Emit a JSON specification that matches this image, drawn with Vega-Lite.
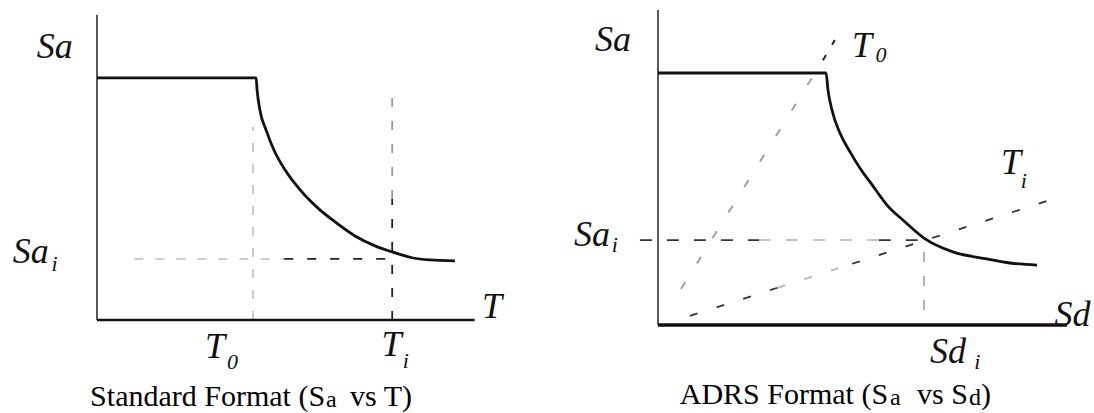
{
  "$schema": "https://vega.github.io/schema/vega-lite/v6.json",
  "background": "white",
  "padding": {"left": 12, "top": 9, "right": 0, "bottom": 0},
  "bounds": "flush",
  "spacing": 180,
  "config": {"view": {"stroke": null}},
  "datasets": {
    "leftAxisY": [{"T": 0, "Sa": 0, "T2": 0, "Sa2": 1.26}],
    "leftAxisX": [{"T": 0, "Sa": 0, "T2": 1.21, "Sa2": 0}],
    "leftCurve": [
      {"T": 0, "Sa": 1.0}, {"T": 0.51, "Sa": 1.0}, {"T": 0.513, "Sa": 0.95}, {"T": 0.522, "Sa": 0.867},
      {"T": 0.542, "Sa": 0.784}, {"T": 0.567, "Sa": 0.702}, {"T": 0.603, "Sa": 0.619}, {"T": 0.651, "Sa": 0.537},
      {"T": 0.708, "Sa": 0.462}, {"T": 0.763, "Sa": 0.405}, {"T": 0.827, "Sa": 0.347}, {"T": 0.891, "Sa": 0.306},
      {"T": 0.946, "Sa": 0.281}, {"T": 1.013, "Sa": 0.256}, {"T": 1.067, "Sa": 0.248}, {"T": 1.147, "Sa": 0.244}
    ],
    "leftDashFaint": [
      {"T": 0.5, "Sa": 0, "T2": 0.5, "Sa2": 0.797},
      {"T": 0.12, "Sa": 0.252, "T2": 0.6, "Sa2": 0.252}
    ],
    "leftDashMid": [
      {"T": 0.946, "Sa": 0.5, "T2": 0.946, "Sa2": 0.95}
    ],
    "leftDashDark": [
      {"T": 0.6, "Sa": 0.252, "T2": 0.946, "Sa2": 0.252},
      {"T": 0.946, "Sa": 0, "T2": 0.946, "Sa2": 0.5}
    ],
    "leftLabels": [
      {"T": -0.135, "Sa": 1.127, "label": "Sa"},
      {"T": -0.212, "Sa": 0.281, "label": "Sa"},
      {"T": 1.266, "Sa": 0.054, "label": "T"},
      {"T": 0.378, "Sa": -0.111, "label": "T"},
      {"T": 0.944, "Sa": -0.103, "label": "T"}
    ],
    "leftSubs": [
      {"T": -0.136, "Sa": 0.232, "label": "i"},
      {"T": 0.434, "Sa": -0.175, "label": "0"},
      {"T": 0.99, "Sa": -0.17, "label": "i"}
    ],
    "leftCapR": [{"T": 0.731, "Sa": -0.355, "label": "Standard Format (S"}],
    "leftCapL": [{"T": 0.811, "Sa": -0.355, "label": "vs T)"}],
    "leftCapSub": [{"T": 0.734, "Sa": -0.361, "label": "a"}],

    "rightAxisY": [{"Sd": 0, "Sa": 0, "Sd2": 0, "Sa2": 1.25}],
    "rightAxisX": [{"Sd": 0, "Sa": 0, "Sd2": 1.538, "Sa2": 0}],
    "rightCurve": [
      {"Sd": 0, "Sa": 1.0}, {"Sd": 0.632, "Sa": 1.0}, {"Sd": 0.639, "Sa": 0.933}, {"Sd": 0.654, "Sa": 0.853},
      {"Sd": 0.684, "Sa": 0.762}, {"Sd": 0.722, "Sa": 0.687}, {"Sd": 0.759, "Sa": 0.623}, {"Sd": 0.805, "Sa": 0.556},
      {"Sd": 0.861, "Sa": 0.476}, {"Sd": 0.929, "Sa": 0.409}, {"Sd": 1.0, "Sa": 0.345}, {"Sd": 1.109, "Sa": 0.29},
      {"Sd": 1.237, "Sa": 0.262}, {"Sd": 1.323, "Sa": 0.246}, {"Sd": 1.425, "Sa": 0.238}
    ],
    "rightSa1Dark": [
      {"Sd": -0.068, "Sa": 0.337, "Sd2": 0.38, "Sa2": 0.337},
      {"Sd": 0.83, "Sa": 0.337, "Sd2": 1.0, "Sa2": 0.337}
    ],
    "rightSa1Faint": [{"Sd": 0.38, "Sa": 0.337, "Sd2": 0.83, "Sa2": 0.337}],
    "rightT1Dark": [
      {"Sd": 0.12, "Sa": 0.036, "Sd2": 0.45, "Sa2": 0.148},
      {"Sd": 0.73, "Sa": 0.243, "Sd2": 1.474, "Sa2": 0.496}
    ],
    "rightT1Faint": [{"Sd": 0.45, "Sa": 0.148, "Sd2": 0.73, "Sa2": 0.243}],
    "rightT0": [{"Sd": 0.0865, "Sa": 0.143, "Sd2": 0.62, "Sa2": 1.051}],
    "rightT0Dark": [{"Sd": 0.62, "Sa": 1.051, "Sd2": 0.665, "Sa2": 1.131}],
    "rightSd1": [{"Sd": 1.0, "Sa": 0.06, "Sd2": 1.0, "Sa2": 0.337}],
    "rightLabels": [
      {"Sd": -0.169, "Sa": 1.131, "label": "Sa"},
      {"Sd": -0.248, "Sa": 0.357, "label": "Sa"},
      {"Sd": 0.767, "Sa": 1.107, "label": "T"},
      {"Sd": 1.327, "Sa": 0.643, "label": "T"},
      {"Sd": 1.558, "Sa": 0.04, "label": "Sd"},
      {"Sd": 1.09, "Sa": -0.107, "label": "Sd"}
    ],
    "rightSubs": [
      {"Sd": -0.162, "Sa": 0.318, "label": "i"},
      {"Sd": 0.838, "Sa": 1.071, "label": "0"},
      {"Sd": 1.375, "Sa": 0.571, "label": "i"},
      {"Sd": 1.2, "Sa": -0.147, "label": "i"}
    ],
    "rightCapR": [{"Sd": 0.865, "Sa": -0.313, "label": "ADRS Format (S"}],
    "rightCapL": [{"Sd": 0.974, "Sa": -0.313, "label": "vs S"}, {"Sd": 1.214, "Sa": -0.313, "label": ")"}],
    "rightCapSub": [{"Sd": 0.872, "Sa": -0.319, "label": "a"}, {"Sd": 1.169, "Sa": -0.319, "label": "d"}]
  },
  "hconcat": [
    {
      "width": 381,
      "height": 310,
      "encoding": {
        "x": {"field": "T", "type": "quantitative", "scale": {"domain": [0, 1.221], "nice": false, "zero": false}, "axis": null},
        "y": {"field": "Sa", "type": "quantitative", "scale": {"domain": [0, 1.28], "nice": false, "zero": false}, "axis": null}
      },
      "layer": [
        {"data": {"name": "leftDashFaint"}, "mark": {"type": "rule", "color": "#cccccc", "strokeWidth": 2, "strokeDash": [9, 12]},
         "encoding": {"x2": {"field": "T2"}, "y2": {"field": "Sa2"}}},
        {"data": {"name": "leftDashMid"}, "mark": {"type": "rule", "color": "#999999", "strokeWidth": 1.8, "strokeDash": [9, 14]},
         "encoding": {"x2": {"field": "T2"}, "y2": {"field": "Sa2"}}},
        {"data": {"name": "leftDashDark"}, "mark": {"type": "rule", "color": "#222", "strokeWidth": 1.8, "strokeDash": [9, 14]},
         "encoding": {"x2": {"field": "T2"}, "y2": {"field": "Sa2"}}},
        {"data": {"name": "leftAxisY"}, "mark": {"type": "rule", "color": "#222", "strokeWidth": 1.5},
         "encoding": {"x2": {"field": "T2"}, "y2": {"field": "Sa2"}}},
        {"data": {"name": "leftAxisX"}, "mark": {"type": "rule", "color": "#111", "strokeWidth": 2.5},
         "encoding": {"x2": {"field": "T2"}, "y2": {"field": "Sa2"}}},
        {"data": {"name": "leftCurve"}, "mark": {"type": "line", "color": "#111", "strokeWidth": 2.8, "interpolate": "monotone"}},
        {"data": {"name": "leftLabels"}, "mark": {"type": "text", "font": "Liberation Serif", "fontStyle": "italic", "fontSize": 36, "align": "center", "baseline": "middle", "color": "#111"},
         "encoding": {"text": {"field": "label"}}},
        {"data": {"name": "leftSubs"}, "mark": {"type": "text", "font": "Liberation Serif", "fontStyle": "italic", "fontSize": 22, "align": "center", "baseline": "middle", "color": "#111"},
         "encoding": {"text": {"field": "label"}}},
        {"data": {"name": "leftCapR"}, "mark": {"type": "text", "font": "Liberation Serif", "fontSize": 30, "align": "right", "baseline": "alphabetic", "color": "#000"},
         "encoding": {"text": {"field": "label"}}},
        {"data": {"name": "leftCapL"}, "mark": {"type": "text", "font": "Liberation Serif", "fontSize": 30, "align": "left", "baseline": "alphabetic", "color": "#000"},
         "encoding": {"text": {"field": "label"}}},
        {"data": {"name": "leftCapSub"}, "mark": {"type": "text", "font": "Liberation Serif", "fontSize": 24, "align": "left", "baseline": "alphabetic", "color": "#000"},
         "encoding": {"text": {"field": "label"}}}
      ]
    },
    {
      "width": 410,
      "height": 315,
      "encoding": {
        "x": {"field": "Sd", "type": "quantitative", "scale": {"domain": [0, 1.5414], "nice": false, "zero": false}, "axis": null},
        "y": {"field": "Sa", "type": "quantitative", "scale": {"domain": [0, 1.25], "nice": false, "zero": false}, "axis": null}
      },
      "layer": [
        {"data": {"name": "rightT0"}, "mark": {"type": "rule", "color": "#a0a0a0", "strokeWidth": 2, "strokeDash": [8, 22]},
         "encoding": {"x2": {"field": "Sd2"}, "y2": {"field": "Sa2"}}},
        {"data": {"name": "rightT0Dark"}, "mark": {"type": "rule", "color": "#222", "strokeWidth": 2, "strokeDash": [6, 12]},
         "encoding": {"x2": {"field": "Sd2"}, "y2": {"field": "Sa2"}}},
        {"data": {"name": "rightT1Dark"}, "mark": {"type": "rule", "color": "#333", "strokeWidth": 1.8, "strokeDash": [8, 20]},
         "encoding": {"x2": {"field": "Sd2"}, "y2": {"field": "Sa2"}}},
        {"data": {"name": "rightT1Faint"}, "mark": {"type": "rule", "color": "#bbbbbb", "strokeWidth": 2, "strokeDash": [8, 20]},
         "encoding": {"x2": {"field": "Sd2"}, "y2": {"field": "Sa2"}}},
        {"data": {"name": "rightSa1Dark"}, "mark": {"type": "rule", "color": "#333", "strokeWidth": 1.8, "strokeDash": [12, 15]},
         "encoding": {"x2": {"field": "Sd2"}, "y2": {"field": "Sa2"}}},
        {"data": {"name": "rightSa1Faint"}, "mark": {"type": "rule", "color": "#c4c4c4", "strokeWidth": 2, "strokeDash": [12, 15]},
         "encoding": {"x2": {"field": "Sd2"}, "y2": {"field": "Sa2"}}},
        {"data": {"name": "rightSd1"}, "mark": {"type": "rule", "color": "#aaa", "strokeWidth": 1.8, "strokeDash": [10, 14]},
         "encoding": {"x2": {"field": "Sd2"}, "y2": {"field": "Sa2"}}},
        {"data": {"name": "rightAxisY"}, "mark": {"type": "rule", "color": "#222", "strokeWidth": 1.5},
         "encoding": {"x2": {"field": "Sd2"}, "y2": {"field": "Sa2"}}},
        {"data": {"name": "rightAxisX"}, "mark": {"type": "rule", "color": "#111", "strokeWidth": 3.5},
         "encoding": {"x2": {"field": "Sd2"}, "y2": {"field": "Sa2"}}},
        {"data": {"name": "rightCurve"}, "mark": {"type": "line", "color": "#111", "strokeWidth": 2.8, "interpolate": "monotone"}},
        {"data": {"name": "rightLabels"}, "mark": {"type": "text", "font": "Liberation Serif", "fontStyle": "italic", "fontSize": 36, "align": "center", "baseline": "middle", "color": "#111"},
         "encoding": {"text": {"field": "label"}}},
        {"data": {"name": "rightSubs"}, "mark": {"type": "text", "font": "Liberation Serif", "fontStyle": "italic", "fontSize": 22, "align": "center", "baseline": "middle", "color": "#111"},
         "encoding": {"text": {"field": "label"}}},
        {"data": {"name": "rightCapR"}, "mark": {"type": "text", "font": "Liberation Serif", "fontSize": 30, "align": "right", "baseline": "alphabetic", "color": "#000"},
         "encoding": {"text": {"field": "label"}}},
        {"data": {"name": "rightCapL"}, "mark": {"type": "text", "font": "Liberation Serif", "fontSize": 30, "align": "left", "baseline": "alphabetic", "color": "#000"},
         "encoding": {"text": {"field": "label"}}},
        {"data": {"name": "rightCapSub"}, "mark": {"type": "text", "font": "Liberation Serif", "fontSize": 24, "align": "left", "baseline": "alphabetic", "color": "#000"},
         "encoding": {"text": {"field": "label"}}}
      ]
    }
  ]
}
